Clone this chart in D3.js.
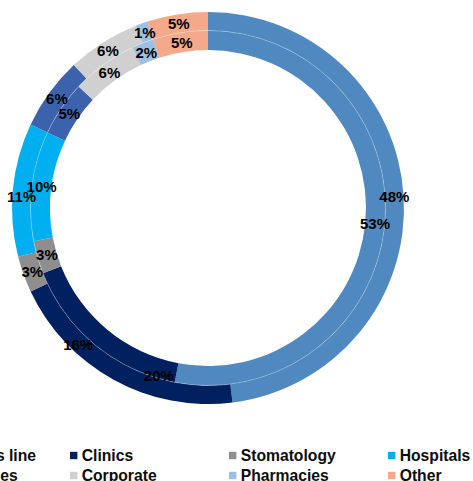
<!DOCTYPE html>
<html>
<head>
<meta charset="utf-8">
<script src="https://cdn.jsdelivr.net/npm/d3@7"></script>
<style>
  html, body { margin: 0; padding: 0; background: #fff; overflow: hidden; }
  svg { display: block; }
</style>
</head>
<body>
<svg id="chart" width="473" height="481"></svg>
<script>
// Revenue split by business line: two years shown as nested rings
const categories = ["Polyclinics line", "Clinics", "Stomatology", "Hospitals",
                    "Laboratories", "Corporate", "Pharmacies", "Other"];
const outerValues = [48, 20, 3, 11, 6, 6, 1, 5];
const innerValues = [53, 16, 3, 10, 5, 6, 2, 5];
const palette = ["#4F89BF", "#00205F", "#8E8E8E", "#00AFEF",
                 "#3C62AE", "#D0D0D0", "#9CBFE3", "#F3A98A"];

const svg = d3.select("#chart");
const cx = 208, cy = 208;

const rings = [
  { key: "outer", values: outerValues, r0: 177.5, r1: 196 },
  { key: "inner", values: innerValues, r0: 158, r1: 177.5 }
];

// Hand-placed label offsets (degrees / pixels) for the crowded Clinics slices
const labelNudge = {
  outer: { 1: { da: -12.4, dr: -12.5 }, 3: { da: -2, dr: 0 } },
  inner: { 1: { da: 4, dr: 20.5 } }
};

const color = d3.scaleOrdinal().domain(categories).range(palette);
const pie = d3.pie().sort(null).value(d => d.v).startAngle(0).endAngle(2 * Math.PI);

const g = svg.append("g").attr("transform", `translate(${cx},${cy})`);

rings.forEach(ring => {
  const data = pie(ring.values.map((v, i) => ({ v, name: categories[i] })));
  const arc = d3.arc().innerRadius(ring.r0).outerRadius(ring.r1);
  g.append("g").selectAll("path")
    .data(data)
    .join("path")
    .attr("d", arc)
    .attr("fill", d => color(d.data.name));
  ring.arcs = data;
});

// faint seam between the two rings
g.append("circle")
  .attr("r", 177.5)
  .attr("fill", "none")
  .attr("stroke", "#ffffff")
  .attr("stroke-opacity", 0.35)
  .attr("stroke-width", 0.8);

// percentage labels
rings.forEach(ring => {
  const rMid = (ring.r0 + ring.r1) / 2;
  g.append("g").selectAll("text")
    .data(ring.arcs)
    .join("text")
    .attr("transform", (d, i) => {
      const n = (labelNudge[ring.key] || {})[i] || { da: 0, dr: 0 };
      const a = (d.startAngle + d.endAngle) / 2 + n.da * Math.PI / 180;
      const r = rMid + n.dr;
      return `translate(${r * Math.sin(a)},${-r * Math.cos(a)})`;
    })
    .attr("text-anchor", "middle")
    .attr("dominant-baseline", "central")
    .attr("font-family", "Liberation Sans, Arial, sans-serif")
    .attr("font-weight", "bold")
    .attr("font-size", 15)
    .attr("fill", "#000")
    .text(d => d.data.v + "%");
});

// legend: four columns, two rows
const legend = svg.append("g");
const colX = d3.scaleLinear().domain([0, 1]).range([-89, 70]);
const rowY = d3.scaleLinear().domain([0, 1]).range([455.5, 475.5]);
const items = legend.selectAll("g")
  .data(categories)
  .join("g")
  .attr("transform", (d, i) => `translate(${colX(i % 4)},${rowY(Math.floor(i / 4))})`);
items.append("rect")
  .attr("x", 0).attr("y", -3.7)
  .attr("width", 7.4).attr("height", 7.4)
  .attr("fill", d => color(d));
items.append("text")
  .attr("x", 11.7)
  .attr("y", 0)
  .attr("dominant-baseline", "central")
  .attr("font-family", "Liberation Sans, Arial, sans-serif")
  .attr("font-weight", "bold")
  .attr("font-size", 15.7)
  .attr("fill", "#0d0d0d")
  .text(d => d);
</script>
</body>
</html>
